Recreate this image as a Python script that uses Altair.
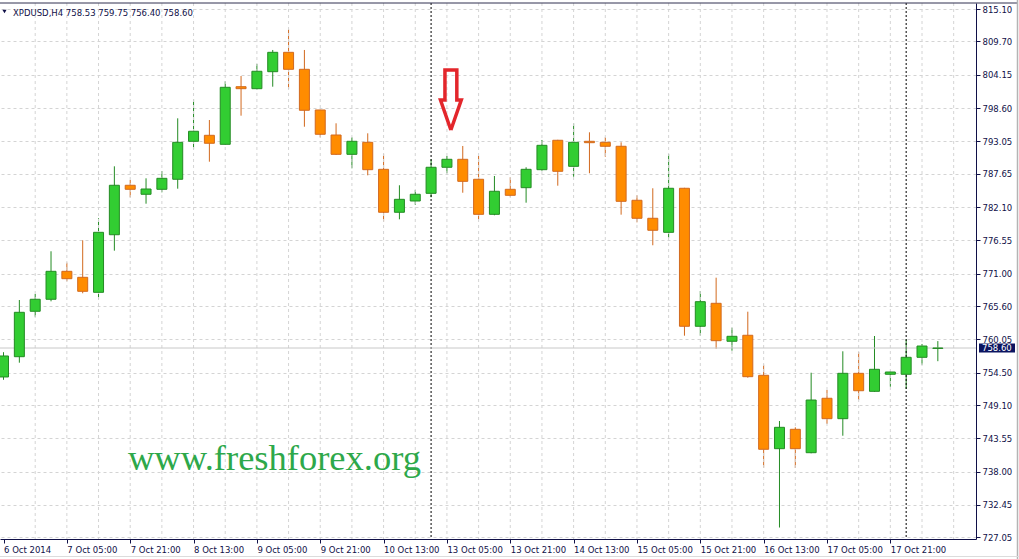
import json
import altair as alt
import pandas as pd

# XPDUSD H4 candles, oldest first (index 0 = 6 Oct 2014 13:00)
opens = [753.77, 757.15, 764.72, 766.72, 771.38, 770.38, 767.88, 777.48, 785.72, 784.22,
         785.05, 786.72, 793.05, 794.05, 792.55, 802.15, 801.82, 804.65, 807.88, 805.05,
         798.27, 794.10, 790.88, 792.88, 788.38, 781.22, 783.10, 784.38, 788.72, 790.05,
         786.72, 780.88, 785.05, 785.32, 788.32, 793.22, 788.88, 793.05, 792.88, 792.22,
         783.22, 780.22, 777.88, 785.22, 762.22, 766.05, 759.72, 760.72, 754.05, 741.82,
         745.05, 741.15, 750.22, 746.82, 754.38, 751.38, 754.22, 754.22, 757.05, 758.53]
highs = [757.90, 766.60, 767.60, 774.72, 772.82, 776.55, 780.22, 788.88, 786.60, 786.88,
         788.10, 796.88, 800.10, 796.60, 803.05, 803.93, 805.93, 808.27, 811.77, 808.27,
         798.30, 796.05, 793.72, 794.38, 790.98, 785.72, 784.93, 790.05, 790.60, 792.27,
         790.60, 787.27, 787.05, 788.72, 793.27, 793.30, 796.05, 794.55, 793.72, 792.88,
         784.05, 785.22, 790.93, 785.30, 768.10, 770.32, 761.98, 764.65, 755.82, 746.43,
         745.38, 754.48, 751.60, 758.05, 757.93, 760.60, 754.65, 760.05, 759.27, 759.75]
lows = [753.30, 756.15, 763.82, 766.38, 769.72, 767.72, 766.72, 774.82, 783.72, 782.65,
        784.55, 785.15, 791.72, 789.65, 792.50, 797.32, 801.72, 802.15, 801.77, 795.48,
        793.72, 790.77, 788.55, 787.38, 779.65, 780.05, 782.48, 783.72, 787.72, 784.48,
        780.05, 780.72, 783.82, 782.82, 788.15, 785.65, 787.15, 787.72, 790.48, 780.82,
        779.55, 775.72, 776.98, 760.65, 760.65, 758.48, 758.15, 753.65, 738.65, 728.68,
        738.60, 741.05, 745.93, 743.98, 749.93, 751.30, 752.15, 751.77, 755.82, 756.40]
closes = [757.27, 764.55, 766.72, 771.38, 770.15, 768.05, 777.88, 785.72, 785.05, 785.10,
          786.88, 792.88, 794.72, 792.72, 802.05, 801.82, 804.72, 807.88, 805.05, 798.22,
          794.22, 790.88, 793.05, 788.32, 781.22, 783.38, 784.22, 788.72, 790.05, 786.38,
          780.88, 784.72, 784.05, 788.38, 792.38, 788.05, 792.88, 792.82, 792.22, 783.05,
          780.22, 778.22, 785.22, 762.22, 766.32, 759.82, 760.55, 753.82, 741.72, 745.38,
          741.82, 749.93, 746.82, 754.38, 751.48, 755.05, 754.60, 757.05, 758.93, 758.60]

# time axis: a label every 4 bars
time_labels = ["6 Oct 2014", "7 Oct 05:00", "7 Oct 21:00", "8 Oct 13:00", "9 Oct 05:00",
               "9 Oct 21:00", "10 Oct 13:00", "13 Oct 05:00", "13 Oct 21:00", "14 Oct 13:00",
               "15 Oct 05:00", "15 Oct 21:00", "16 Oct 13:00", "17 Oct 05:00", "17 Oct 21:00"]
label_step = 4
# price scale labels
price_ticks = [815.10, 809.70, 804.15, 798.60, 793.05, 787.65, 782.10, 776.55, 771.00,
               765.60, 760.05, 754.50, 749.10, 743.55, 738.00, 732.45, 727.05]
# period separators (start of trading week)
week_starts = [27, 57]
# down-arrow annotation: tip bar/price, outline offsets (bars, price)
arrow_tip = (28.25, 794.93)
arrow_dx = [0.0, 0.656, 0.375, 0.375, -0.375, -0.375, -0.656, 0.0]
arrow_dp = [0.0, 5.0, 5.0, 10.0, 10.0, 5.0, 5.0, 0.0]

symbol = "XPDUSD,H4"
watermark = "www.freshforex.org"

GREEN_FILL, GREEN_LINE = "#32CD32", "#238B23"
ORANGE_FILL, ORANGE_LINE = "#FF8C00", "#D2691E"
INK = "#101048"
FONT = "DejaVu Sans"
FS = 8.5

n = len(opens)
df = pd.DataFrame({"i": list(range(n)), "open": opens, "high": highs,
                   "low": lows, "close": closes})
df["dir"] = ["up" if c >= o else "down" for o, c in zip(opens, closes)]

W, H = 976, 536
x0 = 0.09375
xs = alt.Scale(domain=[x0, x0 + W / 16], nice=False, zero=False)
ys = alt.Scale(domain=[726.7667, 816.1], nice=False, zero=False)
line_col = alt.Scale(domain=["up", "down"], range=[GREEN_LINE, ORANGE_LINE])
fill_col = alt.Scale(domain=["up", "down"], range=[GREEN_FILL, ORANGE_FILL])

tick_idx = [k * label_step for k in range(len(time_labels))]
label_expr = json.dumps(time_labels) + "[round(datum.value / %d)]" % label_step

x_axis = alt.Axis(values=tick_idx, labelExpr=label_expr, orient="bottom", title=None,
                  grid=False, labelAlign="left", labelBaseline="top", labelFlush=False,
                  labelOverlap=False, labelBound=False, labelFont=FONT, labelFontSize=FS,
                  labelColor=INK, labelPadding=2, tickSize=4, tickColor=INK,
                  domainColor=INK, domainWidth=1)
y_axis = alt.Axis(values=price_ticks, format=".2f", orient="right", title=None,
                  grid=True, gridDash=[3, 3], gridColor="#D4D4D4", labelAlign="left",
                  labelBaseline="middle", labelFlush=False, labelOverlap=False,
                  labelFont=FONT, labelFontSize=FS, labelColor=INK, labelPadding=2,
                  tickSize=4, tickColor=INK, domainColor=INK, domainWidth=1)


def X(field):
    return alt.X(field, scale=xs, axis=x_axis)


def Y(field):
    return alt.Y(field, scale=ys, axis=y_axis)


base = alt.Chart(df)

wicks = base.mark_rule(strokeWidth=1, clip=True).encode(
    x=X("i:Q"), y=Y("low:Q"), y2="high:Q",
    color=alt.Color("dir:N", scale=line_col, legend=None),
)

bodies = base.mark_bar(size=10, strokeWidth=1, clip=True).encode(
    x=X("i:Q"), y=Y("open:Q"), y2="close:Q",
    fill=alt.Fill("dir:N", scale=fill_col, legend=None),
    stroke=alt.Stroke("dir:N", scale=line_col, legend=None),
)

grid_df = pd.DataFrame({"i": list(range(2, n + 2, 2))})
xgrid = alt.Chart(grid_df).mark_rule(color="#D4D4D4", strokeDash=[3, 3], strokeWidth=1).encode(
    x=X("i:Q"))

sep = alt.Chart(pd.DataFrame({"i": week_starts})).mark_rule(
    color="#000000", strokeDash=[2, 2], strokeWidth=1).encode(x=X("i:Q"))

last_price = closes[-1]
bid = alt.Chart(pd.DataFrame({"low": [last_price]})).mark_rule(
    color="#C8C8C8", strokeWidth=1).encode(y=Y("low:Q"))

arrow_df = pd.DataFrame({
    "i": [arrow_tip[0] + d for d in arrow_dx],
    "low": [arrow_tip[1] + d for d in arrow_dp],
    "o": list(range(len(arrow_dx))),
})
arrow = alt.Chart(arrow_df).mark_line(color="#E3262B", strokeWidth=3.5,
                                      strokeJoin="miter").encode(
    x=X("i:Q"), y=Y("low:Q"), order="o:Q")

tag_df = pd.DataFrame({"low": [last_price], "hi": [last_price + 0.75],
                       "lo": [last_price - 0.75], "t": ["%.2f" % last_price]})
tag_box = alt.Chart(tag_df).mark_rect(color="#0B1460").encode(
    y=alt.Y("hi:Q", scale=ys, axis=y_axis), y2="lo:Q",
    x=alt.value(979), x2=alt.value(1015))
tag_text = alt.Chart(tag_df).mark_text(align="left", baseline="middle", font=FONT,
                                       fontSize=FS, color="white").encode(
    y=Y("low:Q"), x=alt.value(982), text="t:N")

header = "%s  %.2f %.2f %.2f %.2f" % (symbol, opens[-1], highs[-1], lows[-1], closes[-1])
head_text = alt.Chart(pd.DataFrame({"t": [header]})).mark_text(
    align="left", baseline="alphabetic", font=FONT, fontSize=FS, color=INK).encode(
    x=alt.value(13), y=alt.value(12.5), text="t:N")
head_tri = alt.Chart(pd.DataFrame({"t": [0]})).mark_point(
    shape="triangle-down", filled=True, size=18, color=INK, opacity=1).encode(
    x=alt.value(4.5), y=alt.value(8.5))

wm = alt.Chart(pd.DataFrame({"t": [watermark]})).mark_text(
    align="left", baseline="alphabetic", font="Liberation Serif", fontSize=36.5,
    color="#2DA84A").encode(x=alt.value(128), y=alt.value(467), text="t:N")

# window frame: dark top edge, light right and bottom edges
frame_top = alt.Chart(pd.DataFrame({"t": [0]})).mark_rule(color="#303050", strokeWidth=1).encode(
    x=alt.value(0), x2=alt.value(1017), y=alt.value(0))
frame_right = alt.Chart(pd.DataFrame({"t": [0]})).mark_rule(color="#B4B4B4", strokeWidth=1.5).encode(
    x=alt.value(1017.5), y=alt.value(-3), y2=alt.value(556))
frame_bottom = alt.Chart(pd.DataFrame({"t": [0]})).mark_rule(color="#DCDCDC", strokeWidth=1).encode(
    x=alt.value(0), x2=alt.value(1019), y=alt.value(553.5))

chart = alt.layer(
    wicks, xgrid, sep, bid, bodies, arrow, wm, tag_box, tag_text, head_tri, head_text,
    frame_top, frame_right, frame_bottom
).properties(
    width=W, height=H,
    autosize=alt.AutoSizeParams(type="none"),
    padding={"left": 0, "top": 3, "right": 43, "bottom": 20},
    background="white",
).configure_view(stroke=None)

chart.save("out.html", embed_options={"renderer": "svg", "actions": False})
